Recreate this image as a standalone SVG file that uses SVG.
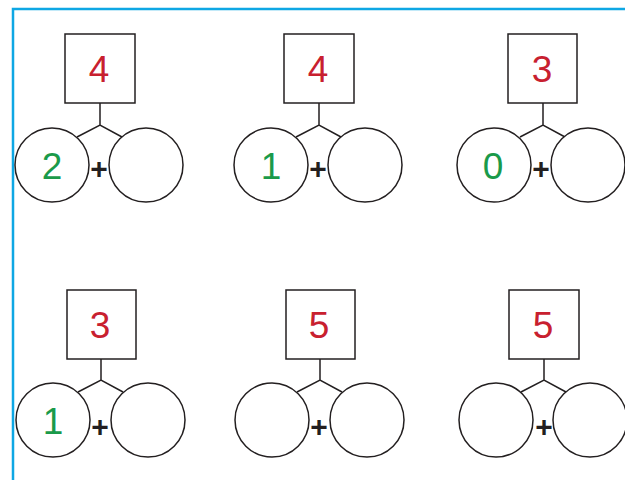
<svg xmlns="http://www.w3.org/2000/svg" width="625" height="480" viewBox="0 0 625 480">
<style>
.sq{fill:#fff;stroke:#231f20;stroke-width:1.5}
.ci{fill:#fff;stroke:#231f20;stroke-width:1.5}
.ln{fill:none;stroke:#231f20;stroke-width:1.5}
.red{font-family:"Liberation Sans",Arial,sans-serif;font-size:37px;fill:#c8202f;text-anchor:middle}
.grn{font-family:"Liberation Sans",Arial,sans-serif;font-size:37px;fill:#1a9a4a;text-anchor:middle}
.pl{font-family:"Liberation Sans",Arial,sans-serif;font-size:30px;font-weight:bold;fill:#231f20;text-anchor:middle}
</style>
<rect width="625" height="480" fill="#fff"/>
<path d="M13,480 V9 H625" fill="none" stroke="#0ea7e4" stroke-width="2.5"/>
<g id="connectors">
<path class="ln" d="M100,103 V125 M77,137 L100,125 L122,137"/>
<path class="ln" d="M319,103 V125 M296,137 L319,125 L341,137"/>
<path class="ln" d="M543,103 V125 M520,137 L543,125 L565,137"/>
<path class="ln" d="M101,359 V380 M78,392 L101,380 L123,392"/>
<path class="ln" d="M320,359 V380 M297,392 L320,380 L342,392"/>
<path class="ln" d="M544,359 V380 M521,392 L544,380 L566,392"/>
</g>
<g id="n1">
<rect class="sq" x="65" y="34" width="70" height="69"/>
<text class="red" x="99" y="82">4</text>
<circle class="ci" cx="52" cy="165" r="37"/>
<circle class="ci" cx="146" cy="165" r="37"/>
<text class="grn" x="52" y="179">2</text>
<text class="pl" x="99" y="179">+</text>
</g>
<g id="n2">
<rect class="sq" x="284" y="34" width="70" height="69"/>
<text class="red" x="318" y="82">4</text>
<circle class="ci" cx="271" cy="165" r="37"/>
<circle class="ci" cx="365" cy="165" r="37"/>
<text class="grn" x="271" y="179">1</text>
<text class="pl" x="318" y="179">+</text>
</g>
<g id="n3">
<rect class="sq" x="508" y="34" width="69" height="69"/>
<text class="red" x="542" y="82">3</text>
<circle class="ci" cx="494" cy="165" r="37"/>
<circle class="ci" cx="588" cy="165" r="37"/>
<text class="grn" x="493" y="179">0</text>
<text class="pl" x="541" y="179">+</text>
</g>
<g id="n4">
<rect class="sq" x="67" y="290" width="69" height="69"/>
<text class="red" x="100" y="338">3</text>
<circle class="ci" cx="53" cy="420" r="37"/>
<circle class="ci" cx="148" cy="420" r="37"/>
<text class="grn" x="53" y="434">1</text>
<text class="pl" x="100" y="437">+</text>
</g>
<g id="n5">
<rect class="sq" x="286" y="290" width="69" height="69"/>
<text class="red" x="319" y="338">5</text>
<circle class="ci" cx="272" cy="420" r="37"/>
<circle class="ci" cx="367" cy="420" r="37"/>
<text class="pl" x="319" y="437">+</text>
</g>
<g id="n6">
<rect class="sq" x="509" y="290" width="70" height="69"/>
<text class="red" x="543" y="338">5</text>
<circle class="ci" cx="496" cy="420" r="37"/>
<circle class="ci" cx="590" cy="420" r="37"/>
<text class="pl" x="544" y="437">+</text>
</g>
</svg>
